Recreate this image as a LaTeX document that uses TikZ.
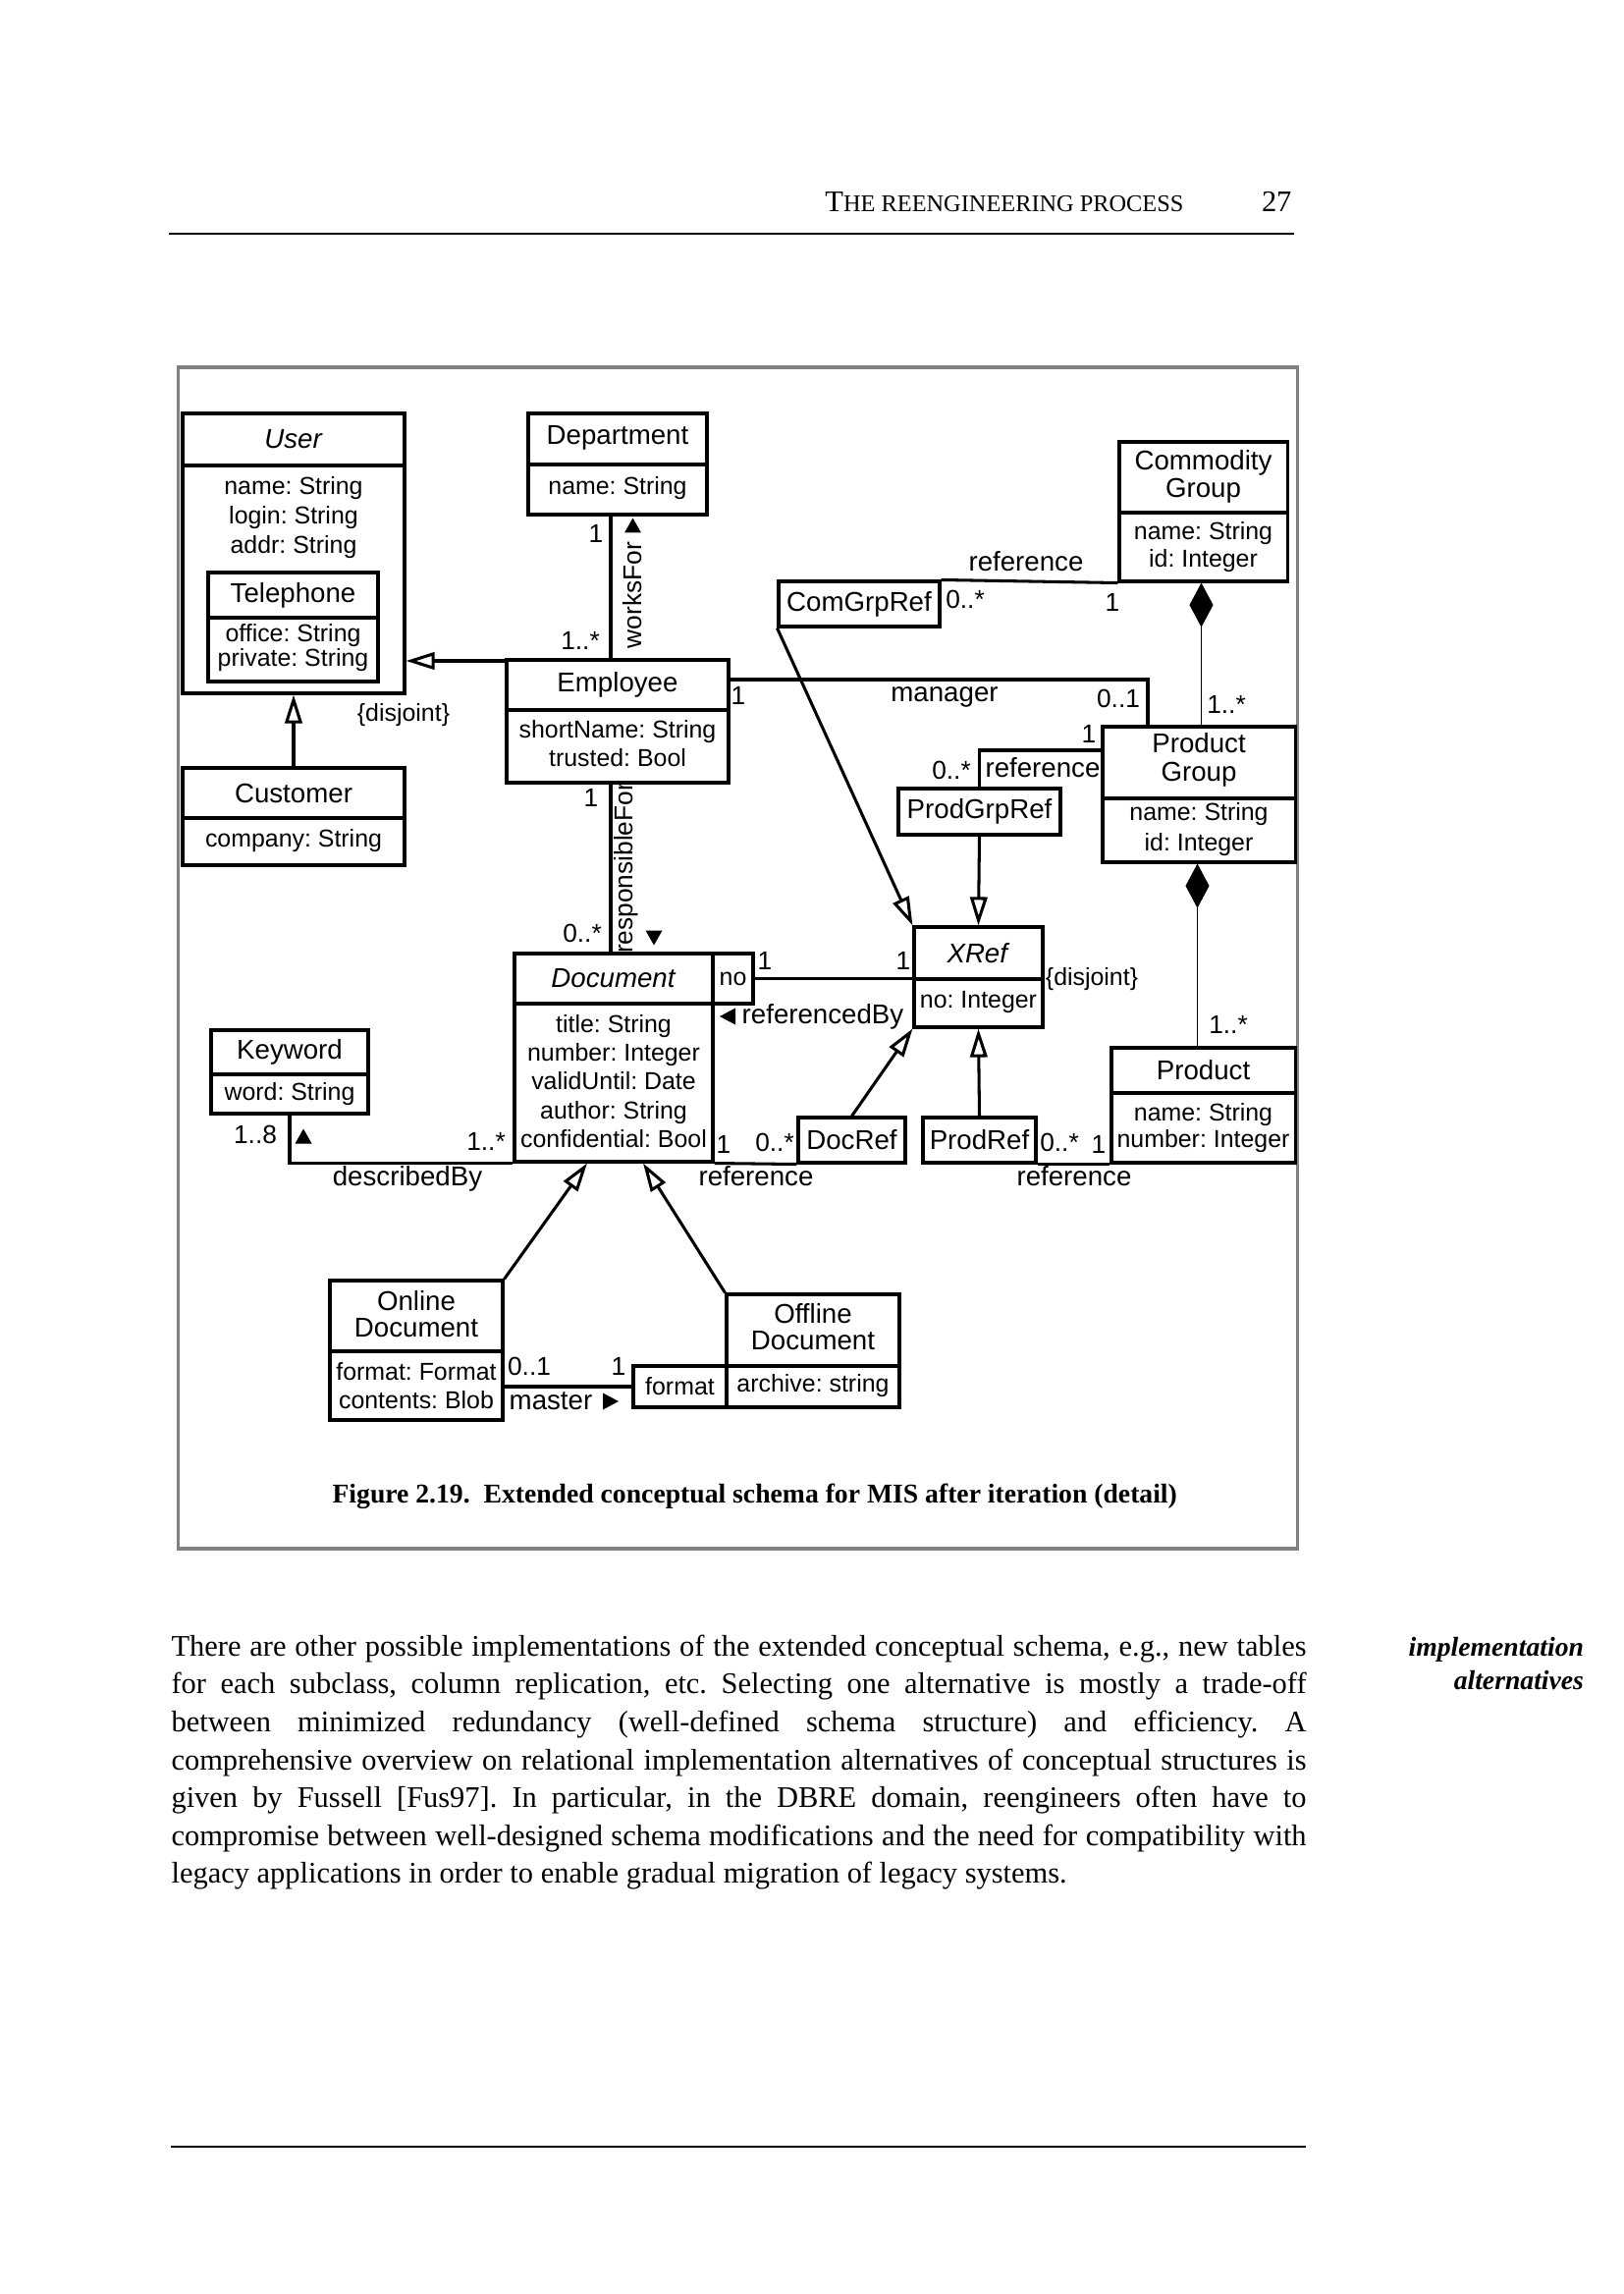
\documentclass[tikz,border=0pt]{standalone}
\usepackage{fontspec}
\setmainfont{Liberation Serif}
\newfontfamily\dsans{Liberation Sans}
\usetikzlibrary{arrows.meta,fit}
\frenchspacing
\newcommand\attrfont[1]{\dsans\fontsize{9}{#1}\selectfont}
\newcommand\titlefont[1]{\dsans\fontsize{10}{#1}\selectfont}
\newcommand\trup[2]{\fill (#1-8.5,#2+7.5) -- (#1+8.5,#2+7.5) -- (#1,#2-7.5) -- cycle;}
\newcommand\trdown[2]{\fill (#1-8.5,#2-7.5) -- (#1+8.5,#2-7.5) -- (#1,#2+7.5) -- cycle;}
\newcommand\trleft[2]{\fill (#1+8,#2-8.5) -- (#1+8,#2+8.5) -- (#1-8,#2) -- cycle;}
\newcommand\trright[2]{\fill (#1-8,#2-8.5) -- (#1-8,#2+8.5) -- (#1+8,#2) -- cycle;}
\begin{document}
\begin{tikzpicture}[x=0.36135pt,y=-0.36135pt,
  ubox/.style={draw, line width=1.1pt, inner sep=0pt},
  conn/.style={line width=1.1pt},
  genar/.style={line width=1.1pt, -{Triangle[open, length=10.5pt, width=6.3pt]}},
  compar/.style={line width=0.4pt, -{Diamond[length=16.3pt, width=8.7pt]}},
  cname/.style={font=\titlefont{10.2}, inner sep=0pt, align=center},
  attr/.style={font=\attrfont{10.6}, inner sep=0pt, align=center},
  albl/.style={font=\dsans\fontsize{10}{12}\selectfont, inner sep=0pt},
  mult/.style={font=\dsans\fontsize{9.5}{11}\selectfont, inner sep=0pt},
  rlbl/.style={font=\dsans\fontsize{9.5}{11}\selectfont, inner sep=0pt, rotate=90}]
\useasboundingbox (0,0) rectangle (1653,2336);

% ---------- page header ----------
\node[anchor=base east, inner sep=0pt, font=\fontsize{11}{13}\selectfont] (hdr) at (1206,216) {T{\fontsize{8.8}{10}\selectfont HE REENGINEERING PROCESS}};
\node[anchor=base east, inner sep=0pt, font=\fontsize{11}{13}\selectfont] (pgno) at (1316,216) {27};
\draw[line width=0.5pt] (171.5,238) -- (1318,238);

% ---------- figure frame ----------
\draw[black!50, line width=1.1pt] (181.5,374) rectangle (1321,1577);

% ---------- classes ----------
% User
\node[ubox, fit={(186,421) (412,706)}] (user) {};
\draw[conn] (user.west |- 0,474) -- (user.east |- 0,474);
\node[cname] (userT) at (299,447.5) {\textit{User}};
\node[attr, font=\attrfont{10.84}] (userA) at (299,527) {name: String\\login: String\\addr: String};
% Telephone
\node[ubox, fit={(212,583) (385,694)}] (tel) {};
\draw[conn] (tel.west |- 0,629) -- (tel.east |- 0,629);
\node[cname] (telT) at (298.5,606) {Telephone};
\node[attr, font=\attrfont{9}] (telA) at (298.5,659.5) {office: String\\private: String};
% Department
\node[ubox, fit={(538,421) (720,524)}] (dept) {};
\draw[conn] (dept.west |- 0,473) -- (dept.east |- 0,473);
\node[cname] (deptT) at (629,446) {Department};
\node[attr] (deptA) at (629,497.5) {name: String};
% Employee
\node[ubox, fit={(516,672) (742,797)}] (emp) {};
\draw[conn] (emp.west |- 0,723) -- (emp.east |- 0,723);
\node[cname] (empT) at (629,697) {Employee};
\node[attr, font=\attrfont{10.5}] (empA) at (629,757.5) {shortName: String\\trusted: Bool};
% Customer
\node[ubox, fit={(186,782) (412,881)}] (cust) {};
\draw[conn] (cust.west |- 0,833) -- (cust.east |- 0,833);
\node[cname] (custT) at (299,807.5) {Customer};
\node[attr] (custA) at (299,856.5) {company: String};
% Commodity Group
\node[ubox, fit={(1140,450) (1311,592)}] (cg) {};
\draw[conn] (cg.west |- 0,522) -- (cg.east |- 0,522);
\node[cname, font=\titlefont{10.1}] (cgT) at (1225.5,485) {Commodity\\Group};
\node[attr, font=\attrfont{10.1}] (cgA) at (1225.5,557) {name: String\\id: Integer};
% ComGrpRef
\node[ubox, fit={(793,592) (957,638)}] (cgr) {};
\node[cname] (cgrT) at (875,615) {ComGrpRef};
% Product Group
\node[ubox, fit={(1123,740) (1319,878)}] (pg) {};
\draw[conn] (pg.west |- 0,813) -- (pg.east |- 0,813);
\node[cname, font=\titlefont{10.4}] (pgT) at (1221,774) {Product\\Group};
\node[attr, font=\attrfont{11.4}] (pgA) at (1221,844.5) {name: String\\id: Integer};
% ProdGrpRef
\node[ubox, fit={(915,803) (1080,850)}] (pgr) {};
\node[cname] (pgrT) at (997.5,826.5) {ProdGrpRef};
% XRef
\node[ubox, fit={(931,944) (1062,1046)}] (xref) {};
\draw[conn] (xref.west |- 0,997) -- (xref.east |- 0,997);
\node[cname] (xrefT) at (996.5,970.5) {\textit{XRef}};
\node[attr] (xrefA) at (996.5,1021) {no: Integer};
% Document
\node[ubox, fit={(524,971) (726,1183)}] (doc) {};
\draw[conn] (doc.west |- 0,1022) -- (doc.east |- 0,1022);
\node[cname] (docT) at (625,996) {\textit{Document}};
\node[attr] (docA) at (625,1101) {title: String\\number: Integer\\validUntil: Date\\author: String\\confidential: Bool};
% qualifier no
\node[ubox, fit={(726,971) (767,1022)}] (nobox) {};
\node[attr] (noT) at (746.5,996.5) {no};
% Keyword
\node[ubox, fit={(215,1049) (375,1134)}] (kw) {};
\draw[conn] (kw.west |- 0,1094) -- (kw.east |- 0,1094);
\node[cname] (kwT) at (295,1071.5) {Keyword};
\node[attr] (kwA) at (295,1114) {word: String};
% DocRef / ProdRef
\node[ubox, fit={(813,1138) (922,1184)}] (docref) {};
\node[cname] (docrefT) at (867.5,1161) {DocRef};
\node[ubox, fit={(940,1138) (1055,1184)}] (prodref) {};
\node[cname] (prodrefT) at (997.5,1161) {ProdRef};
% Product
\node[ubox, fit={(1132,1067) (1319,1184)}] (prod) {};
\draw[conn] (prod.west |- 0,1113) -- (prod.east |- 0,1113);
\node[cname] (prodT) at (1225.5,1090) {Product};
\node[attr, font=\attrfont{9.6}] (prodA) at (1225.5,1148.5) {name: String\\number: Integer};
% Online Document
\node[ubox, fit={(336,1304) (512,1446)}] (online) {};
\draw[conn] (online.west |- 0,1376) -- (online.east |- 0,1376);
\node[cname, font=\titlefont{9.6}] (onlineT) at (424,1338) {Online\\Document};
\node[attr, font=\attrfont{10.2}] (onlineA) at (424,1411) {format: Format\\contents: Blob};
% Offline Document + qualifier format
\node[ubox, fit={(740,1318) (916,1433)}] (offline) {};
\draw[conn] (offline.west |- 0,1391) -- (offline.east |- 0,1391);
\node[cname, font=\titlefont{10}] (offlineT) at (828,1351) {Offline\\Document};
\node[attr] (offlineA) at (828,1411) {archive: string};
\node[ubox, fit={(645,1391) (740,1433)}] (fmt) {};
\node[attr] (fmtT) at (692.5,1412) {format};

% ---------- connectors ----------
% Employee, Customer -> User
\draw[genar] (emp.west |- 0,673) -- (user.east |- 0,673);
\draw[genar] (cust.north) -- (user.south);
\node[attr] (disj1) at (411,728) {\{disjoint\}};
% worksFor
\draw[conn] (622,0 |- dept.south) -- (622,0 |- emp.north);
\node[mult] (wf1) at (607,543) {1};
\node[mult] (wf2) at (591,652) {1..*};
\node[rlbl] (wfL) at (644.5,606) {worksFor};
\trup{644.5}{535}
% responsibleFor
\draw[conn] (622,0 |- emp.south) -- (622,0 |- doc.north);
\node[mult] (rf1) at (602,812) {1};
\node[mult] (rf2) at (593,950) {0..*};
\node[rlbl] (rfL) at (637.6,884) {responsibleFor};
\trdown{666}{955}
% manager
\draw[conn] (emp.east |- 0,692) -| (1169,0 |- pg.north);
\node[mult] (mg1) at (752,708) {1};
\node[albl] (mgL) at (962,710) {manager};
\node[mult] (mg2) at (1139,711) {0..1};
% ComGrpRef reference
\draw[conn] (cgr.north east) -- (cg.south west);
\node[albl] (crL) at (1045,572) {reference};
\node[mult] (cr1) at (983,610) {0..*};
\node[mult] (cr2) at (1133,613) {1};
% ProdGrpRef reference
\draw[conn] (pgr.north) |- (pg.west |- 0,764);
\node[albl] (prL) at (1062,782) {reference};
\node[mult] (pr1) at (969,784) {0..*};
\node[mult] (pr2) at (1109,747) {1};
% compositions
\draw[compar] (1223.5,0 |- pg.north) -- (1223.5,0 |- cg.south);
\node[mult] (cp1) at (1249,717) {1..*};
\draw[compar] (1219.5,0 |- prod.north) -- (1219.5,0 |- pg.south);
\node[mult] (cp2) at (1251,1043) {1..*};
% XRef generalisations
\draw[genar] (cgr.south west) -- (xref.north west);
\draw[genar] (pgr.south) -- (xref.north);
\draw[genar] (docref.north) -- (xref.south west);
\draw[genar] (prodref.north) -- (xref.south);
\node[attr] (disj2) at (1112,997) {\{disjoint\}};
% referencedBy
\draw[conn] (nobox.east) -- (xref.west |- nobox.east);
\node[mult] (rb1) at (779,978) {1};
\node[mult] (rb2) at (920,978) {1};
\trleft{741}{1035}
\node[albl] (rbL) at (838,1035) {referencedBy};
% Document - DocRef
\draw[conn] (doc.south east) -- (docref.south west);
\node[mult] (dr1) at (737,1165) {1};
\node[mult] (dr2) at (789,1163) {0..*};
\node[albl] (drL) at (770,1198) {reference};
% ProdRef - Product
\draw[conn] (prodref.south east) -- (prod.south west);
\node[mult] (pp1) at (1079,1163) {0..*};
\node[mult] (pp2) at (1119,1165) {1};
\node[albl] (ppL) at (1094,1198) {reference};
% describedBy
\draw[conn] (kw.south) |- (doc.south west);
\node[mult] (db1) at (260,1155) {1..8};
\trup{309}{1157}
\node[mult] (db2) at (495,1162) {1..*};
\node[albl] (dbL) at (415,1200) {describedBy};
% Online / Offline -> Document
\draw[genar] (online.north east) -- (598,0 |- doc.south);
\draw[genar] (offline.north west) -- (655,0 |- doc.south);
% master
\draw[conn] (online.east |- fmt.west) -- (fmt.west);
\node[mult] (ms1) at (539,1391) {0..1};
\node[mult] (ms2) at (630,1391) {1};
\node[albl] (msL) at (561,1427) {master};
\trright{622}{1427}

% ---------- caption ----------
\node[anchor=base west, inner sep=0pt, font=\bfseries\fontsize{10}{12}\selectfont] (cap) at (338,1530) {Figure 2.19.~ Extended conceptual schema for MIS after iteration (detail)};

% ---------- body text ----------
\node[anchor=base west, inner sep=0pt] (body) at (174,1686) {\parbox[t]{417.7pt}{\fontsize{11}{13.97}\selectfont
\makebox[\linewidth][s]{There are other possible implementations of the extended conceptual schema, e.g., new tables}\\
\makebox[\linewidth][s]{for each subclass, column replication, etc. Selecting one alternative is mostly a trade-off}\\
\makebox[\linewidth][s]{between minimized redundancy (well-defined schema structure) and efficiency. A}\\
\makebox[\linewidth][s]{comprehensive overview on relational implementation alternatives of conceptual structures is}\\
\makebox[\linewidth][s]{given by Fussell [Fus97]. In particular, in the DBRE domain, reengineers often have to}\\
\makebox[\linewidth][s]{compromise between well-designed schema modifications and the need for compatibility with}\\
legacy applications in order to enable gradual migration of legacy systems.}};
\node[anchor=base east, inner sep=0pt, font=\bfseries\itshape\fontsize{10}{12}\selectfont] (mn1) at (1613.5,1686) {implementation};
\node[anchor=base east, inner sep=0pt, font=\bfseries\itshape\fontsize{10}{12}\selectfont] (mn2) at (1613.5,1720) {alternatives};

\draw[line width=0.5pt] (174,2186) -- (1330,2186);
\end{tikzpicture}
\end{document}
